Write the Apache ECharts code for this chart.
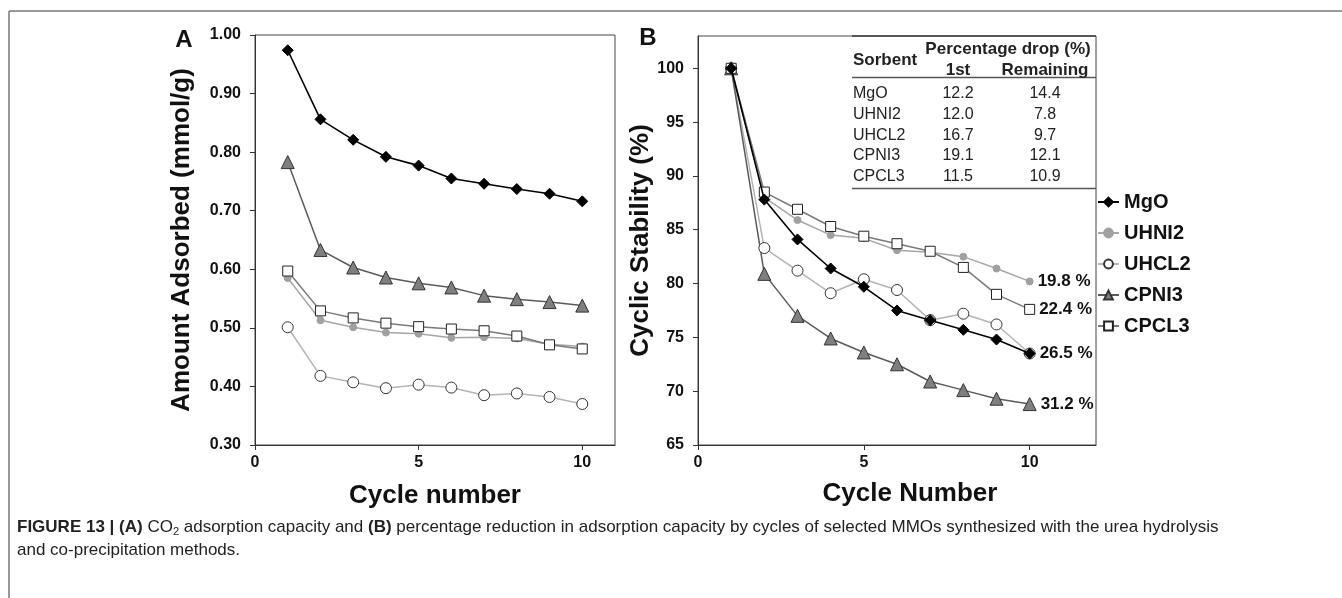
<!DOCTYPE html>
<html>
<head>
<meta charset="utf-8">
<script src="https://cdn.jsdelivr.net/npm/echarts@6/dist/echarts.min.js"></script>
<style>
html,body{margin:0;padding:0;background:#fff;}
#chart{width:1342px;height:598px;}
</style>
</head>
<body>
<div id="chart"></div>
<script>
// ---- data ----
const cycles = [1, 2, 3, 4, 5, 6, 7, 8, 9, 10];
const seriesNames = ['MgO', 'UHNI2', 'UHCL2', 'CPNI3', 'CPCL3'];

// (A) amount adsorbed (mmol/g)
const adsMgO   = [0.974, 0.856, 0.821, 0.792, 0.777, 0.755, 0.746, 0.737, 0.729, 0.716];
const adsUHNI2 = [0.585, 0.513, 0.501, 0.492, 0.490, 0.483, 0.484, 0.482, 0.472, 0.468];
const adsUHCL2 = [0.501, 0.418, 0.407, 0.397, 0.403, 0.398, 0.385, 0.388, 0.382, 0.370];
const adsCPNI3 = [0.783, 0.633, 0.603, 0.586, 0.576, 0.569, 0.555, 0.549, 0.544, 0.538];
const adsCPCL3 = [0.597, 0.529, 0.517, 0.508, 0.502, 0.498, 0.495, 0.486, 0.471, 0.464];

// (B) cyclic stability (%)
const stabMgO   = [100, 87.8, 84.1, 81.4, 79.7, 77.5, 76.6, 75.7, 74.8, 73.5];
const stabUHNI2 = [100, 88.0, 85.9, 84.5, 84.2, 83.1, 82.9, 82.5, 81.4, 80.2];
const stabUHCL2 = [100, 83.3, 81.2, 79.1, 80.4, 79.4, 76.6, 77.2, 76.2, 73.5];
const stabCPNI3 = [100, 80.9, 77.0, 74.9, 73.6, 72.5, 70.9, 70.1, 69.3, 68.8];
const stabCPCL3 = [100, 88.5, 86.9, 85.3, 84.4, 83.7, 83.0, 81.5, 79.0, 77.6];

// end labels on panel B (null = none)
const endLabels = ['26.5 %', '19.8 %', null, '31.2 %', '22.4 %'];

// tick labels
const xTicks = [0, 5, 10];
const yTicksA = [0.30, 0.40, 0.50, 0.60, 0.70, 0.80, 0.90, 1.00];
const yTicksB = [65, 70, 75, 80, 85, 90, 95, 100];

// inset table
const tableSorbents = ['MgO', 'UHNI2', 'UHCL2', 'CPNI3', 'CPCL3'];
const tableFirst = ['12.2', '12.0', '16.7', '19.1', '11.5'];
const tableRemaining = ['14.4', '7.8', '9.7', '12.1', '10.9'];

const captionLine1 = ['FIGURE 13 |', '(A)', ' CO', '2', ' adsorption capacity and ', '(B)',
  ' percentage reduction in adsorption capacity by cycles of selected MMOs synthesized with the urea hydrolysis'];
const captionLine2 = 'and co-precipitation methods.';

// ---- styles ----
const FONT = '"Liberation Sans", Arial, Helvetica, sans-serif';
const styles = {
  MgO:   { symbol: 'diamond',  size: 11, line: '#000000', width: 1.6, fill: '#000000', border: '#000000' },
  UHNI2: { symbol: 'circle',   size: 7,  line: '#a6a6a6', width: 1.5, fill: '#a0a0a0', border: '#a0a0a0' },
  UHCL2: { symbol: 'circle',   size: 11, line: '#b4b4b4', width: 1.5, fill: '#ffffff', border: '#333333' },
  CPNI3: { symbol: 'triangle', size: 13, line: '#5a5a5a', width: 1.5, fill: '#7f7f7f', border: '#333333' },
  CPCL3: { symbol: 'rect',     size: 10, line: '#7a7a7a', width: 1.5, fill: '#ffffff', border: '#222222' }
};
const adsData = [adsMgO, adsUHNI2, adsUHCL2, adsCPNI3, adsCPCL3];
const stabData = [stabMgO, stabUHNI2, stabUHCL2, stabCPNI3, stabCPCL3];

function mkSeries(name, vals, axisIdx, endLabel) {
  const s = styles[name];
  const data = cycles.map((c, i) => {
    const item = { value: [c, vals[i]] };
    if (endLabel && i === cycles.length - 1) {
      item.label = {
        show: true, position: 'right', distance: 4, formatter: endLabel,
        fontFamily: FONT, fontWeight: 'bold', fontSize: 17, color: '#111'
      };
    }
    return item;
  });
  return {
    name: name, type: 'line', xAxisIndex: axisIdx, yAxisIndex: axisIdx,
    data: data, symbol: s.symbol, symbolSize: s.size, showAllSymbol: true,
    animation: false,
    lineStyle: { color: s.line, width: s.width },
    itemStyle: { color: s.fill, borderColor: s.border, borderWidth: 1 },
    emphasis: { disabled: true },
    z: name === 'MgO' ? 5 : 3
  };
}

const series = [];
seriesNames.forEach((n, i) => series.push(mkSeries(n, adsData[i], 0, null)));
seriesNames.forEach((n, i) => series.push(mkSeries(n, stabData[i], 1, endLabels[i])));

const axisLineStyle = { lineStyle: { color: '#333', width: 1 } };
const tickStyle = { show: true, inside: false, length: 5, lineStyle: { color: '#333' } };
const labelFont = { fontFamily: FONT, fontWeight: 'bold', fontSize: 16, color: '#111' };
const nameFont = { fontFamily: FONT, fontWeight: 'bold', fontSize: 26, color: '#111' };

// ---- table graphic ----
const tbl = [];
const tX0 = 852, tX1 = 1096;
tbl.push({ type: 'line', shape: { x1: tX0, y1: 36, x2: tX1, y2: 36 }, style: { stroke: '#555', lineWidth: 2 } });
tbl.push({ type: 'line', shape: { x1: tX0, y1: 77.5, x2: tX1, y2: 77.5 }, style: { stroke: '#555', lineWidth: 1.5 } });
tbl.push({ type: 'line', shape: { x1: tX0, y1: 188.5, x2: tX1, y2: 188.5 }, style: { stroke: '#555', lineWidth: 1.5 } });
const hFont = 'bold 17px ' + FONT;
const bFont = '16px ' + FONT;
tbl.push({ type: 'text', x: 853, y: 60, style: { text: 'Sorbent', font: hFont, fill: '#222', textAlign: 'left', textVerticalAlign: 'middle' } });
tbl.push({ type: 'text', x: 1008, y: 49, style: { text: 'Percentage drop (%)', font: hFont, fill: '#222', textAlign: 'center', textVerticalAlign: 'middle' } });
tbl.push({ type: 'text', x: 958, y: 70, style: { text: '1st', font: hFont, fill: '#222', textAlign: 'center', textVerticalAlign: 'middle' } });
tbl.push({ type: 'text', x: 1045, y: 70, style: { text: 'Remaining', font: hFont, fill: '#222', textAlign: 'center', textVerticalAlign: 'middle' } });
tableSorbents.forEach((n, i) => {
  const y = 94 + i * 20.6;
  tbl.push({ type: 'text', x: 853, y: y, style: { text: n, font: bFont, fill: '#222', textAlign: 'left', textVerticalAlign: 'middle' } });
  tbl.push({ type: 'text', x: 958, y: y, style: { text: tableFirst[i], font: bFont, fill: '#222', textAlign: 'center', textVerticalAlign: 'middle' } });
  tbl.push({ type: 'text', x: 1045, y: y, style: { text: tableRemaining[i], font: bFont, fill: '#222', textAlign: 'center', textVerticalAlign: 'middle' } });
});

const capRichText = '{b|' + captionLine1[0] + '} {b|' + captionLine1[1] + '}{n|' + captionLine1[2] + '}{sub|' + captionLine1[3] +
  '}{n|' + captionLine1[4] + '}{b|' + captionLine1[5] + '}{n|' + captionLine1[6] + '}';

const CAP = 17;
const graphics = [
  { type: 'line', shape: { x1: 9, y1: 11, x2: 1342, y2: 11 }, style: { stroke: '#777', lineWidth: 1.5 } },
  { type: 'line', shape: { x1: 9, y1: 11, x2: 9, y2: 598 }, style: { stroke: '#777', lineWidth: 1.5 } },
  { type: 'text', x: 184, y: 40, style: { text: 'A', font: 'bold 24px ' + FONT, fill: '#111', textAlign: 'center', textVerticalAlign: 'middle' } },
  { type: 'text', x: 648, y: 38, style: { text: 'B', font: 'bold 24px ' + FONT, fill: '#111', textAlign: 'center', textVerticalAlign: 'middle' } },
  {
    type: 'text', x: 17, y: 527,
    style: {
      text: capRichText, textVerticalAlign: 'middle', fill: '#222',
      font: CAP + 'px ' + FONT,
      rich: {
        b: { fontFamily: FONT, fontSize: CAP, fontWeight: 'bold', fill: '#222', lineHeight: 22 },
        n: { fontFamily: FONT, fontSize: CAP, fill: '#222', lineHeight: 22 },
        sub: { fontFamily: FONT, fontSize: 11, fill: '#222', lineHeight: 22, padding: [9, 0, 0, 0] }
      }
    }
  },
  { type: 'text', x: 17, y: 550, style: { text: captionLine2, font: CAP + 'px ' + FONT, fill: '#222', textVerticalAlign: 'middle' } }
].concat(tbl);

const option = {
  animation: false,
  backgroundColor: '#ffffff',
  textStyle: { fontFamily: FONT },
  legend: {
    data: seriesNames, orient: 'vertical', left: 1097, top: 192, padding: 0,
    itemWidth: 21, itemHeight: 11, itemGap: 11,
    textStyle: { fontFamily: FONT, fontWeight: 'bold', fontSize: 20, color: '#111', lineHeight: 20 },
    selectedMode: false
  },
  grid: [
    { left: 255, top: 35, width: 360, height: 410, show: true, borderColor: '#444', borderWidth: 1, backgroundColor: 'transparent', containLabel: false },
    { left: 698, top: 36, width: 398, height: 409, show: true, borderColor: '#444', borderWidth: 1, backgroundColor: 'transparent', containLabel: false }
  ],
  xAxis: [
    {
      type: 'value', gridIndex: 0, min: 0, max: 11, interval: 5,
      name: 'Cycle number', nameLocation: 'middle', nameGap: 38, nameTextStyle: nameFont,
      axisLine: axisLineStyle, axisTick: Object.assign({ customValues: xTicks }, tickStyle),
      axisLabel: Object.assign({ customValues: xTicks, margin: 10 }, labelFont),
      splitLine: { show: false }
    },
    {
      type: 'value', gridIndex: 1, min: 0, max: 12, interval: 5,
      name: 'Cycle Number', nameLocation: 'middle', nameGap: 36,
      nameTextStyle: Object.assign({ padding: [0, 0, 0, 26] }, nameFont),
      axisLine: axisLineStyle, axisTick: Object.assign({ customValues: xTicks }, tickStyle),
      axisLabel: Object.assign({ customValues: xTicks, margin: 10 }, labelFont),
      splitLine: { show: false }
    }
  ],
  yAxis: [
    {
      type: 'value', gridIndex: 0, min: 0.30, max: 1.00, interval: 0.10,
      name: 'Amount Adsorbed (mmol/g)', nameLocation: 'middle', nameGap: 60, nameTextStyle: nameFont,
      axisLine: axisLineStyle, axisTick: Object.assign({ customValues: yTicksA }, tickStyle),
      axisLabel: Object.assign({ customValues: yTicksA, margin: 14, formatter: v => v.toFixed(2) }, labelFont),
      splitLine: { show: false }
    },
    {
      type: 'value', gridIndex: 1, min: 65, max: 103, interval: 5,
      name: 'Cyclic Stability (%)', nameLocation: 'middle', nameGap: 38, nameTextStyle: nameFont,
      axisLine: axisLineStyle, axisTick: Object.assign({ customValues: yTicksB }, tickStyle),
      axisLabel: Object.assign({ customValues: yTicksB, margin: 14 }, labelFont),
      splitLine: { show: false }
    }
  ],
  series: series,
  graphic: graphics
};

const chart = echarts.init(document.getElementById('chart'), null, { renderer: 'canvas' });
chart.setOption(option);
</script>
</body>
</html>
